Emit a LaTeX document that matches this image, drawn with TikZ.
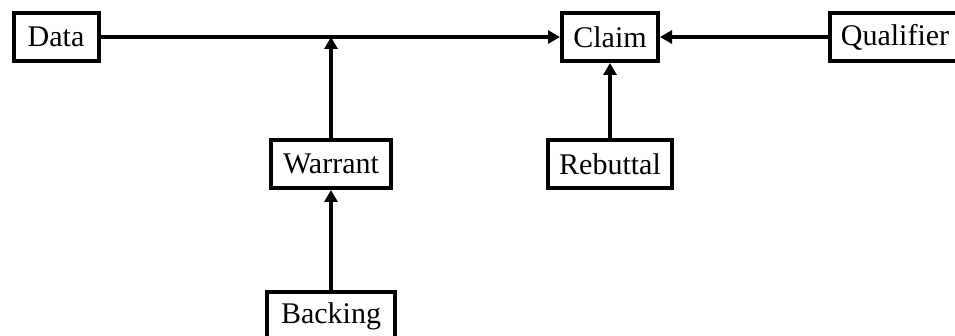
\documentclass[tikz,border=0pt]{standalone}
\usepackage{fontspec}
\setmainfont{Liberation Serif}
\usetikzlibrary{positioning}
\usetikzlibrary{arrows.meta}
\tikzset{
box/.style={rectangle,draw=black,line width=2pt,minimum height=24pt,inner sep=0pt,font=\fontsize{15pt}{18pt}\selectfont}
}
\tikzset{
link/.style={line width=2pt,-{Triangle[length=6pt,width=6.5pt]}}
}

\begin{document}
\begin{tikzpicture}[x=0.5pt,y=-0.5pt]
\useasboundingbox (0,0) rectangle (955,336);
\clip (0,0) rectangle (955,336);

\node[box,minimum width=42.5pt] (data) at (56,37) {Data};
\node[box,minimum width=48pt] (claim) at (610,37) {Claim};
\node[box,minimum width=65pt] (qualifier) at (895,37) {Qualifier};
\node[box,minimum width=60pt] (warrant) at (331,164) {Warrant};
\node[box,minimum width=62pt] (rebuttal) at (610,164) {Rebuttal};
\node[box,minimum width=64pt] (backing) at (331,316) {Backing};
%------------------------------------------------------------------------------------------------------------%
\draw[link] (data) -- (claim);
\draw[link] (qualifier) -- (claim);
\draw[link] (rebuttal) -- (claim);
\draw[link] (warrant) -- (warrant |- data);
\draw[link] (backing) -- (warrant);

\end{tikzpicture}
\end{document}
